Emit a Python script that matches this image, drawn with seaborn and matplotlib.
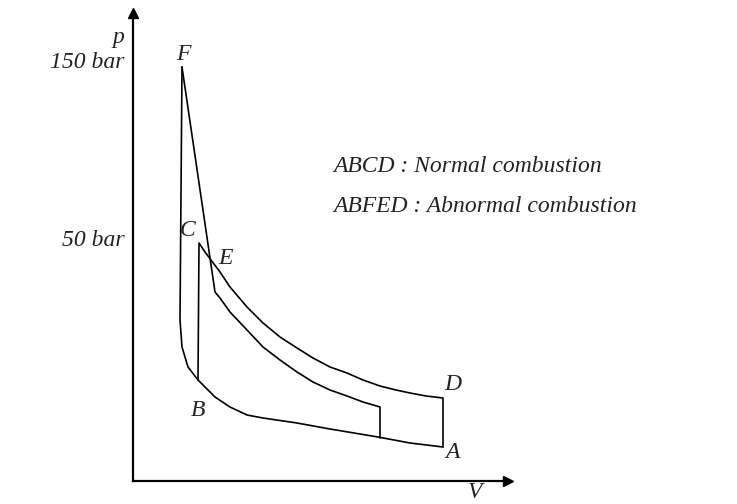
import pandas as pd
import seaborn as sns
import matplotlib.pyplot as plt

# p-V diagram, normal vs abnormal combustion (arbitrary units, schematic)
comp_v = [310, 277, 245, 197, 164, 130, 114, 97, 82, 65, 55, 49, 47, 49]
comp_p = [34, 38, 44, 52, 58, 63, 66, 74, 84, 101, 114, 134, 161, 414]

normal_v = [65, 66, 72, 78, 87, 97, 114, 130, 147, 164, 180, 197, 214, 230,
            247, 263, 277, 293, 310, 310]
normal_p = [101, 238, 229, 221, 209, 194, 174, 158, 144, 133, 123, 114, 108, 101,
            95, 91, 88, 85, 83, 34]

abnormal_v = [49, 82, 87, 97, 114, 130, 147, 164, 180, 197, 214, 230, 247, 247]
abnormal_p = [414, 189, 183, 169, 151, 134, 121, 109, 99, 91, 85, 79, 74, 43]

point_names = ["F", "C", "E", "D", "B", "A"]
point_v = [50, 55, 92, 320, 65, 319]
point_p = [426, 251, 223, 96, 71, 28]

tick_labels = ["150 bar", "50 bar"]
tick_p = [419, 241]

legend_lines = ["ABCD : Normal combustion", "ABFED : Abnormal combustion"]
legend_p = [315, 274]

sns.set_style("white")
plt.rcParams["font.family"] = ["Liberation Serif", "DejaVu Serif"]

fig = plt.figure(figsize=(7.37, 5.04), dpi=100)
ax = fig.add_axes([133 / 737, 23 / 504, 375 / 737, 468 / 504])

paths = [(comp_v, comp_p), (normal_v, normal_p), (abnormal_v, abnormal_p)]
for v, p in paths:
    df = pd.DataFrame({"V": v, "p": p})
    sns.lineplot(data=df, x="V", y="p", sort=False, estimator=None,
                 color="black", lw=1.2, ax=ax)

ax.set_xlim(0, 375)
ax.set_ylim(0, 468)
ax.set_xticks([])
ax.set_yticks([])
ax.set_xlabel("")
ax.set_ylabel("")
for side in ["top", "right"]:
    ax.spines[side].set_visible(False)
for side in ["left", "bottom"]:
    ax.spines[side].set_linewidth(1.6)
    ax.spines[side].set_color("black")

# arrow heads at axis ends
ax.plot(1, 0, ">", color="black", ms=7, transform=ax.get_yaxis_transform(), clip_on=False)
ax.plot(0, 1, "^", color="black", ms=7, transform=ax.get_xaxis_transform(), clip_on=False)

txt = dict(style="italic", fontsize=17, color="#222222")
for name, v, p in zip(point_names, point_v, point_p):
    ax.text(v, p, name, ha="center", va="center", clip_on=False, **txt)
for lab, p in zip(tick_labels, tick_p):
    ax.text(-8, p, lab, ha="right", va="center", clip_on=False, **txt)
for lab, p in zip(legend_lines, legend_p):
    ax.text(200, p, lab, ha="left", va="center", clip_on=False, **txt)
ax.text(-15, 444, "p", ha="center", va="center", clip_on=False, **txt)
ax.text(342, -11, "V", ha="center", va="center", clip_on=False, **txt)

fig.savefig("out.png", dpi=100)
